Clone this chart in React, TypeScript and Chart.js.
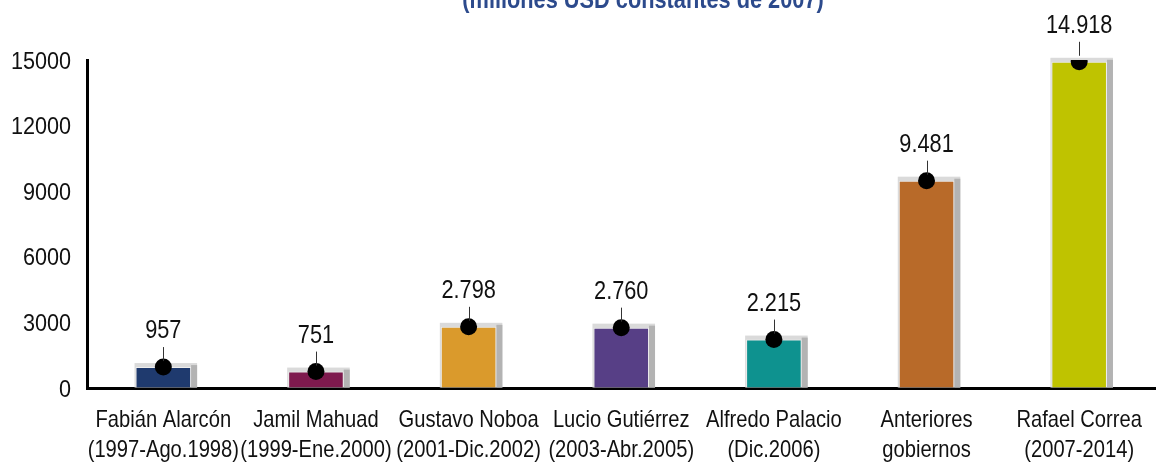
import React, { useEffect, useRef } from "react";
import { Chart, registerables } from "chart.js";

Chart.register(...registerables);

const categories: string[][] = [
  ["Fabián Alarcón", "(1997-Ago.1998)"],
  ["Jamil Mahuad", "(1999-Ene.2000)"],
  ["Gustavo Noboa", "(2001-Dic.2002)"],
  ["Lucio Gutiérrez", "(2003-Abr.2005)"],
  ["Alfredo Palacio", "(Dic.2006)"],
  ["Anteriores", "gobiernos"],
  ["Rafael Correa", "(2007-2014)"],
];
const values: number[] = [957, 751, 2798, 2760, 2215, 9481, 14918];
const valueLabels: string[] = ["957", "751", "2.798", "2.760", "2.215", "9.481", "14.918"];
const barColors: string[] = ["#1F3A6E", "#7E1A4E", "#DA9A2C", "#573F86", "#0E928F", "#B86A29", "#BFC300"];
const yTicks: number[] = [0, 3000, 6000, 9000, 12000, 15000];
const titleText = "(millones USD constantes de 2007)";

const FONT = "'Liberation Sans', Arial, sans-serif";

function narrowText(ctx: any, text: string, x: number, y: number, font: string, sx: number, align: string, color: string) {
  ctx.save();
  ctx.translate(x, y);
  ctx.scale(sx, 1);
  ctx.font = font;
  ctx.fillStyle = color;
  ctx.textAlign = align;
  ctx.textBaseline = "alphabetic";
  ctx.fillText(text, 0, 0);
  ctx.restore();
}

const bevelPlugin = {
  id: "bevel",
  beforeDatasetDraw(chart: any, args: any) {
    if (args.index !== 0) return;
    const ctx = chart.ctx;
    const meta = chart.getDatasetMeta(0);
    ctx.save();
    meta.data.forEach((el: any) => {
      const w = el.width;
      const l = el.x - w / 2;
      const top = el.y;
      const base = el.base;
      ctx.fillStyle = "#dadada";
      ctx.fillRect(l - 1, top - 4, w + 7, base - top + 4);
      ctx.fillStyle = "#b3b3b3";
      ctx.fillRect(l + w, top - 2, 6, base - top + 2);
    });
    ctx.restore();
  },
};

const textPlugin = {
  id: "texts",
  afterDraw(chart: any) {
    const ctx = chart.ctx;
    const meta = chart.getDatasetMeta(1);
    meta.data.forEach((pt: any, i: number) => {
      ctx.save();
      ctx.strokeStyle = "#333";
      ctx.lineWidth = 1;
      ctx.beginPath();
      ctx.moveTo(Math.round(pt.x) + 0.5, pt.y - 20);
      ctx.lineTo(Math.round(pt.x) + 0.5, pt.y - 6);
      ctx.stroke();
      ctx.restore();
      narrowText(ctx, valueLabels[i], pt.x, pt.y - 29, `25px ${FONT}`, 0.87, "center", "#111");
    });
    const xs = chart.scales.x;
    categories.forEach((lines, i) => {
      const x = xs.getPixelForValue(i);
      lines.forEach((ln, j) => {
        narrowText(ctx, ln, x, 427 + j * 30, `24px ${FONT}`, 0.84, "center", "#111");
      });
    });
    const ys = chart.scales.y;
    yTicks.forEach((v) => {
      const y = ys.getPixelForValue(v);
      narrowText(ctx, String(v), 71, y + 8.5, `24px ${FONT}`, 0.9, "right", "#111");
    });
    narrowText(ctx, titleText, 643, 8, `bold 25px ${FONT}`, 0.87, "center", "#2C4A8C");
  },
};

export default function App() {
  const ref = useRef<HTMLCanvasElement | null>(null);
  useEffect(() => {
    if (!ref.current) return;
    const chart = new Chart(ref.current, {
      type: "bar",
      data: {
        labels: categories,
        datasets: [
          {
            type: "bar",
            data: values,
            backgroundColor: barColors,
            borderColor: "#eeeeee",
            borderWidth: 1,
            categoryPercentage: 1,
            barPercentage: 0.364,
            order: 2,
          },
          {
            type: "line",
            data: values,
            showLine: false,
            pointRadius: 8.5,
            pointBackgroundColor: "#000",
            pointBorderColor: "#000",
            pointBorderWidth: 0,
            order: 1,
          } as any,
        ],
      },
      options: {
        animation: false,
        responsive: false,
        maintainAspectRatio: false,
        layout: { padding: { top: 60, right: 0, left: 0, bottom: 0 } },
        plugins: { legend: { display: false }, tooltip: { enabled: false }, title: { display: false } },
        scales: {
          x: {
            grid: { display: true, drawOnChartArea: false, drawTicks: false },
            border: { display: true, color: "#000", width: 3 },
            ticks: { display: false },
            afterFit: (s: any) => {
              s.height = 75;
            },
          },
          y: {
            min: 0,
            max: 15000,
            afterBuildTicks: (s: any) => {
              s.ticks = yTicks.map((v) => ({ value: v }));
            },
            grid: { display: true, drawOnChartArea: false, drawTicks: false },
            border: { display: true, color: "#000", width: 3 },
            ticks: { display: false },
            afterFit: (s: any) => {
              s.width = 87;
            },
          },
        },
      },
      plugins: [bevelPlugin, textPlugin],
    });
    return () => chart.destroy();
  }, []);
  return (
    <div style={{ position: "fixed", left: 0, top: 0, width: 1164, height: 463, background: "#fff" }}>
      <canvas ref={ref} width={1164} height={463} style={{ display: "block", width: 1164, height: 463 }} />
    </div>
  );
}
